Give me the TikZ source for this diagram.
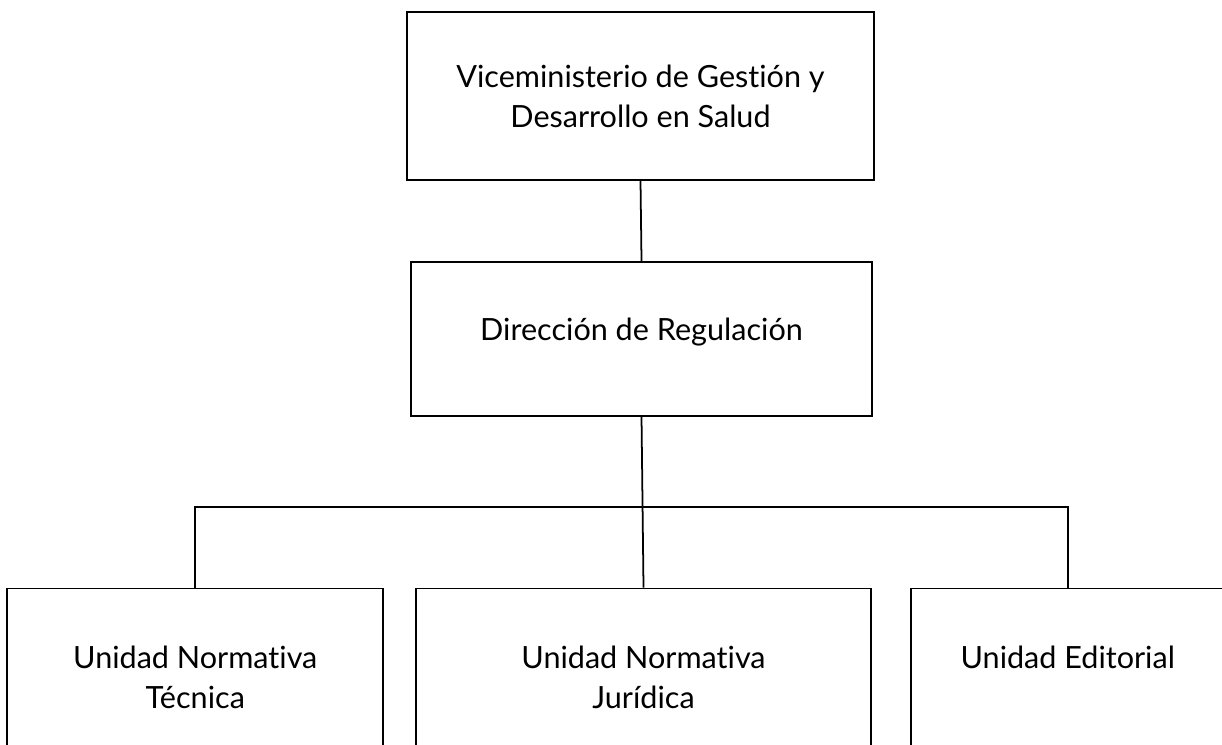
\documentclass[tikz,border=0pt]{standalone}
\usepackage{fontspec}
\setmainfont{Lato}[Ligatures=NoCommon]
\usetikzlibrary{positioning}

\begin{document}
\begin{tikzpicture}[
        node distance=0.8cm and 0.3cm,
        font=\fontsize{8.7}{11.4}\selectfont,
        unit/.style={draw, line width=0.5pt, align=center, inner sep=0pt},
        link/.style={line width=0.5pt}
    ]
    \clip (0,0) rectangle (12.22,7.44);

    % --- Nodes ---
    \node[unit, minimum width=4.67cm, minimum height=1.68cm] (vice) at (6.405,6.48) {Viceministerio de Gestión y\\Desarrollo en Salud};
    \node[unit, minimum width=4.61cm, minimum height=1.54cm, below=0.8cm of vice, xshift=0.01cm] (dir) {Dirección de Regulación\\[-5.7pt]\mbox{}};
    \node[unit, minimum width=4.55cm, minimum height=1.78cm, below=1.71cm of dir, xshift=0.02cm] (jur) {Unidad Normativa\\Jurídica};
    \node[unit, minimum width=3.76cm, minimum height=1.78cm, left=0.31cm of jur] (tec) {Unidad Normativa\\Técnica};
    \node[unit, minimum width=3.14cm, minimum height=1.78cm, right=0.38cm of jur] (edi) {Unidad Editorial\\\mbox{}};
    \coordinate (bar) at (6.43,2.37);

    % --- Connections ---
    \draw[link] (vice.south) -- (dir.north);
    \draw[link] (dir.south) -- (jur.north);
    \draw[link] (tec.north) -- (tec.north |- bar) -- (edi.north |- bar) -- (edi.north);

\end{tikzpicture}
\end{document}
